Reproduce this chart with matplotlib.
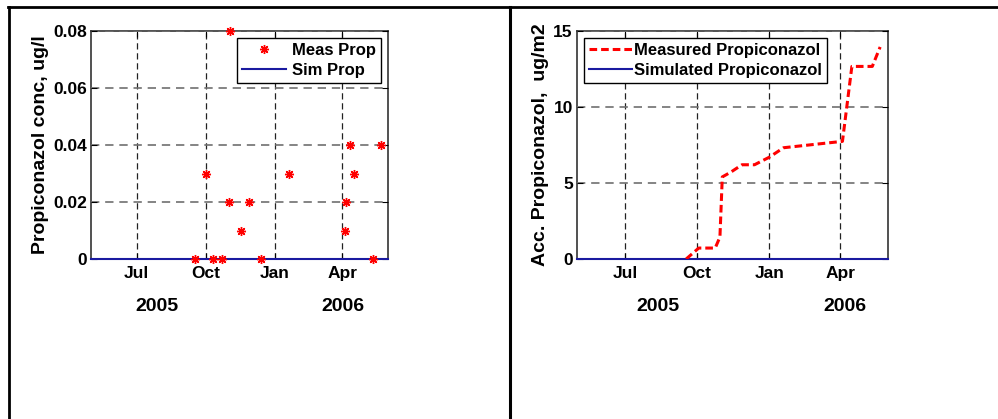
import numpy as np
import pandas as pd
import matplotlib
matplotlib.use("Agg")
import matplotlib.pyplot as plt
import matplotlib.dates as mdates
from matplotlib.lines import Line2D

plt.rcParams['font.family'] = ['Liberation Sans', 'DejaVu Sans']
plt.rcParams['font.weight'] = 'bold'
plt.rcParams['font.size'] = 12.5

# Measured propiconazol concentration (ug/l)
conc_dates = ['2005-09-17', '2005-10-01', '2005-10-10', '2005-10-23', '2005-11-01',
              '2005-11-02', '2005-11-17', '2005-11-27', '2005-12-14', '2006-01-20',
              '2006-04-04', '2006-04-06', '2006-04-11', '2006-04-17', '2006-05-12',
              '2006-05-22']
conc_meas = [0, 0.03, 0, 0, 0.02, 0.08, 0.01, 0.02, 0, 0.03,
             0.01, 0.02, 0.04, 0.03, 0, 0.04]

# Simulated (zero over whole period)
sim_dates = ['2005-05-01', '2006-06-01']
sim_vals = [0, 0]

# Accumulated measured propiconazol (ug/m2)
acc_dates = ['2005-09-17', '2005-10-03', '2005-10-24', '2005-10-30', '2005-11-02',
             '2005-11-13', '2005-11-27', '2005-12-13', '2006-01-01', '2006-01-19',
             '2006-04-04', '2006-04-16', '2006-05-12', '2006-05-22']
acc_meas = [0, 0.72, 0.72, 1.45, 5.4, 5.72, 6.2, 6.2, 6.7, 7.32,
            7.74, 12.67, 12.67, 13.95]

month_ticks = ['2005-07-01', '2005-10-01', '2006-01-01', '2006-04-01']
month_labels = ['Jul', 'Oct', 'Jan', 'Apr']
x_range = ['2005-05-01', '2006-06-01']


def d(lst):
    return mdates.date2num(pd.to_datetime(lst).to_pydatetime())


W, H = 998, 419
fig = plt.figure(figsize=(W / 100, H / 100), dpi=100)


def px_axes(x0, x1, y0, y1):
    return fig.add_axes([x0 / W, (H - y1) / H, (x1 - x0) / W, (y1 - y0) / H])


def style_axes(ax, years_pos):
    ax.set_xlim(d(x_range))
    ax.set_xticks(d(month_ticks))
    ax.set_xticklabels(month_labels)
    ax.tick_params(direction='in', length=4, top=True, right=True, width=0.8)
    ax.tick_params(axis='x', pad=5)
    ax.tick_params(axis='y', pad=3)
    ax.xaxis.grid(True, color='#222222', linestyle=(0, (5, 3)), lw=0.9)
    ax.yaxis.grid(True, color='#707070', linestyle=(0, (5, 3.5)), lw=1.2)
    ax.set_axisbelow(False)
    for sp in ax.spines.values():
        sp.set_color('#333333')
        sp.set_linewidth(1.2)
    for yr, xp in zip(['2005', '2006'], years_pos):
        ax.text(xp, -0.21, yr, transform=ax.transAxes, ha='center', va='center',
                fontsize=14, fontweight='bold')


# left panel
ax1 = px_axes(91, 388, 31, 259)
ax1.plot(d(conc_dates), conc_meas, linestyle='none', marker=(8, 2, 0), color='red',
         markersize=6.5, markeredgewidth=1.0, label='Meas Prop', clip_on=False, zorder=5)
ax1.plot(d(sim_dates), sim_vals, color='#1a1aa0', lw=1.5, label='Sim Prop',
         clip_on=False, zorder=4)
ax1.set_ylim(0, 0.08)
ax1.set_yticks([0, 0.02, 0.04, 0.06, 0.08])
ax1.set_yticklabels(['0', '0.02', '0.04', '0.06', '0.08'])
ax1.set_ylabel('Propiconazol conc, ug/l', fontweight='bold', fontsize=14, labelpad=3)
style_axes(ax1, [0.222, 0.848])
leg1 = ax1.legend(loc='upper right', numpoints=1, handlelength=2.6, handletextpad=0.4,
                  borderpad=0.3, labelspacing=0.3, borderaxespad=0.4, fancybox=False,
                  framealpha=1, edgecolor='black', fontsize=12)
leg1.get_frame().set_linewidth(1.0)

# right panel
ax2 = px_axes(577, 888, 31, 259)
ax2.plot(d(acc_dates), acc_meas, color='red', lw=2.2, linestyle=(0, (2.5, 1.3)),
         label='Measured Propiconazol', zorder=5)
ax2.plot(d(sim_dates), sim_vals, color='#1a1aa0', lw=1.5, label='Simulated Propiconazol',
         clip_on=False, zorder=4)
ax2.set_ylim(0, 15)
ax2.set_yticks([0, 5, 10, 15])
ax2.set_ylabel('Acc. Propiconazol,  ug/m2', fontweight='bold', fontsize=14, labelpad=3)
style_axes(ax2, [0.26, 0.862])
leg2 = ax2.legend(loc='upper left', handlelength=2.6, handletextpad=0.15,
                  borderpad=0.3, labelspacing=0.3, borderaxespad=0.4, fancybox=False,
                  framealpha=1, edgecolor='black', fontsize=12)
leg2.get_frame().set_linewidth(1.0)

# page frame lines
fig.add_artist(Line2D([8 / W, 1.0], [(H - 7) / H] * 2, color='black', lw=2))
fig.add_artist(Line2D([9 / W] * 2, [0, (H - 7) / H], color='black', lw=2))
fig.add_artist(Line2D([510 / W] * 2, [0, (H - 7) / H], color='black', lw=2.2))

fig.savefig('out.png', dpi=100)
